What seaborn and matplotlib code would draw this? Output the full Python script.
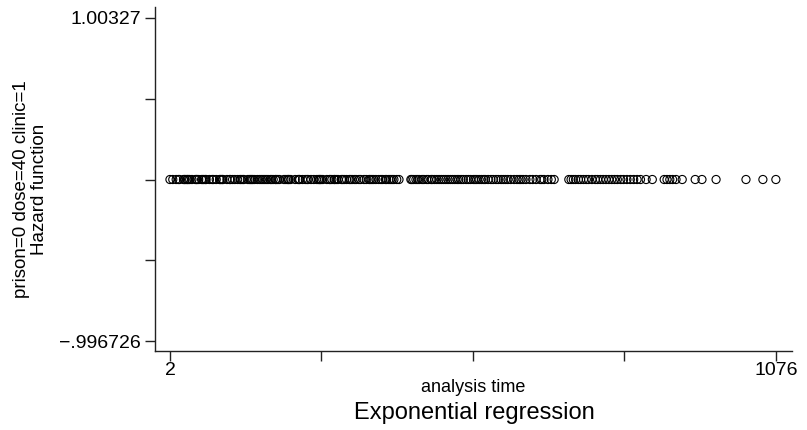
import matplotlib
matplotlib.use("Agg")
import matplotlib.pyplot as plt
import seaborn as sns
import pandas as pd

# analysis times (x) of each point
times = [2, 7, 13, 17, 19, 26, 28, 29, 32, 33, 35, 37, 41, 47, 49, 50, 53, 58, 60, 62,
         65, 66, 72, 77, 79, 84, 90, 91, 93, 95, 96, 103, 108, 109, 113, 117, 122, 126,
         128, 131, 133, 140, 143, 145, 147, 149, 152, 157, 161, 164, 167, 170, 173, 176,
         180, 182, 185, 189, 190, 193, 196, 204, 207, 210, 212, 213, 216, 224, 229, 231,
         232, 237, 242, 245, 247, 252, 257, 262, 265, 267, 268, 270, 273, 280, 285, 286,
         289, 293, 294, 297, 300, 306, 308, 311, 315, 320, 322, 325, 329, 332, 337, 340,
         346, 350, 355, 357, 360, 363, 367, 372, 376, 379, 384, 386, 390, 393, 396, 399,
         404, 408,
         429, 431, 434, 438, 441, 444, 449, 452, 457, 460, 465, 467, 471, 475, 479, 483,
         487, 491, 495, 499, 503, 507, 511, 514, 518, 522, 527, 531, 535, 540, 543, 546,
         550, 554, 558, 561, 566, 571, 575, 580, 584, 589, 593, 597, 601, 606, 612, 617,
         621, 624, 628, 633, 640, 645, 651, 658, 661, 665, 672, 678, 683,
         709, 713, 717, 721, 726, 730, 735, 740, 744, 750, 756, 760, 765, 770, 775, 780,
         785, 790, 795, 801, 806, 812, 818, 824, 830, 836, 846, 857,
         878, 883, 888, 893, 899, 910, 933, 945, 970, 1023, 1053, 1076]
# hazard function values (constant for exponential regression)
hazard = [0.00327] * len(times)

y_ticks = [-0.996726, -0.496727, 0.003272, 0.503271, 1.00327]
y_ticklabels = ["\u2212.996726", "", "", "", "1.00327"]
x_ticks = [2, 270.5, 539, 807.5, 1076]
x_ticklabels = ["2", "", "", "", "1076"]

sns.set_style("ticks")
plt.rcParams['font.family'] = ['Liberation Sans', 'DejaVu Sans']
plt.rcParams['text.color'] = 'black'
plt.rcParams['axes.labelcolor'] = 'black'
plt.rcParams['xtick.color'] = 'black'
plt.rcParams['ytick.color'] = 'black'

df = pd.DataFrame({"time": times, "hazard": hazard})

fig = plt.figure(figsize=(8.07, 4.30), dpi=100)
ax = fig.add_axes([0.192, 0.1837, 0.789, 0.80])
sns.scatterplot(data=df, x="time", y="hazard", ax=ax, marker="o", s=34,
                facecolors="none", edgecolor="black", linewidth=0.8, legend=False)

ax.set_xlim(-24.6, 1104)
ax.set_ylim(-1.0586, 1.0713)
ax.set_xticks(x_ticks)
ax.set_xticklabels(x_ticklabels, fontsize=14)
ax.set_yticks(y_ticks)
ax.set_yticklabels(y_ticklabels, fontsize=14)
ax.tick_params(axis="both", length=7, width=1, color="#222222", labelcolor="black", pad=3)
ax.tick_params(axis="x", pad=1)
for s in ["top", "right"]:
    ax.spines[s].set_visible(False)
for s in ["left", "bottom"]:
    ax.spines[s].set_color("#222222")
    ax.spines[s].set_linewidth(1)

ax.set_xlabel("analysis time", fontsize=13, labelpad=0, color="black")
ax.set_ylabel("prison=0 dose=40 clinic=1\nHazard function", fontsize=13.5,
              linespacing=1.05, color="black")
ax.yaxis.set_label_coords(-0.168, 0.47)
fig.text(0.588, 0.040, "Exponential regression", ha="center", va="center",
         fontsize=17, color="black")

fig.savefig("out.png", dpi=100)
